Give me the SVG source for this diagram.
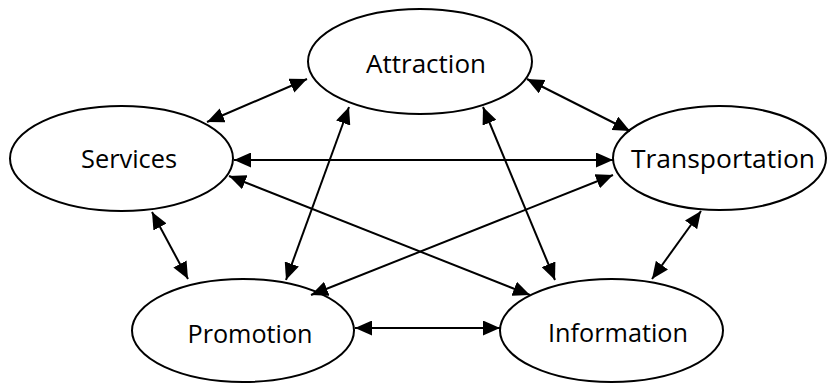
<svg xmlns="http://www.w3.org/2000/svg" width="827" height="383" viewBox="0 0 827 383">
  <style>
    .node ellipse { fill: #ffffff; stroke: #000000; stroke-width: 2; }
    .node text { font-family: "Open Sans", "Noto Sans", "DejaVu Sans", sans-serif; font-size: 26px; fill: #000000; text-anchor: middle; }
    .edges line { stroke: #000000; stroke-width: 2; marker-start: url(#ah); marker-end: url(#ah); }
  </style>
  <defs>
    <marker id="ah" markerUnits="userSpaceOnUse" viewBox="0 0 17 15" markerWidth="17" markerHeight="15" refX="17" refY="7.5" orient="auto-start-reverse">
      <path d="M0,0 L17,7.5 L0,15 Z" fill="#000000"/>
    </marker>
  </defs>
  <rect width="827" height="383" fill="#ffffff"/>
  <g id="attraction" class="node">
    <ellipse cx="420" cy="61.5" rx="112" ry="52.5"/>
    <text x="426" y="73" textLength="120" lengthAdjust="spacingAndGlyphs">Attraction</text>
  </g>
  <g id="services" class="node">
    <ellipse cx="121.5" cy="158.5" rx="111.5" ry="52.5"/>
    <text x="129" y="168" textLength="96" lengthAdjust="spacingAndGlyphs">Services</text>
  </g>
  <g id="transportation" class="node">
    <ellipse cx="719.5" cy="158" rx="106.5" ry="52"/>
    <text x="723" y="168" textLength="184" lengthAdjust="spacingAndGlyphs">Transportation</text>
  </g>
  <g id="promotion" class="node">
    <ellipse cx="243" cy="330.5" rx="111" ry="51.5"/>
    <text x="250" y="343" textLength="125" lengthAdjust="spacingAndGlyphs">Promotion</text>
  </g>
  <g id="information" class="node">
    <ellipse cx="611.5" cy="330.5" rx="111.5" ry="51.5"/>
    <text x="618" y="342" textLength="140" lengthAdjust="spacingAndGlyphs">Information</text>
  </g>
  <g id="connectors" class="edges">
    <line x1="207" y1="122" x2="307" y2="79"/>
    <line x1="527" y1="79" x2="630" y2="131"/>
    <line x1="234" y1="160" x2="613" y2="160"/>
    <line x1="229" y1="176" x2="530" y2="295"/>
    <line x1="349" y1="107" x2="286" y2="280"/>
    <line x1="483" y1="107" x2="555" y2="280"/>
    <line x1="613" y1="175" x2="311" y2="295"/>
    <line x1="152" y1="212" x2="188" y2="279"/>
    <line x1="701" y1="211" x2="652" y2="279"/>
    <line x1="355" y1="328" x2="500" y2="328"/>
  </g>
</svg>
